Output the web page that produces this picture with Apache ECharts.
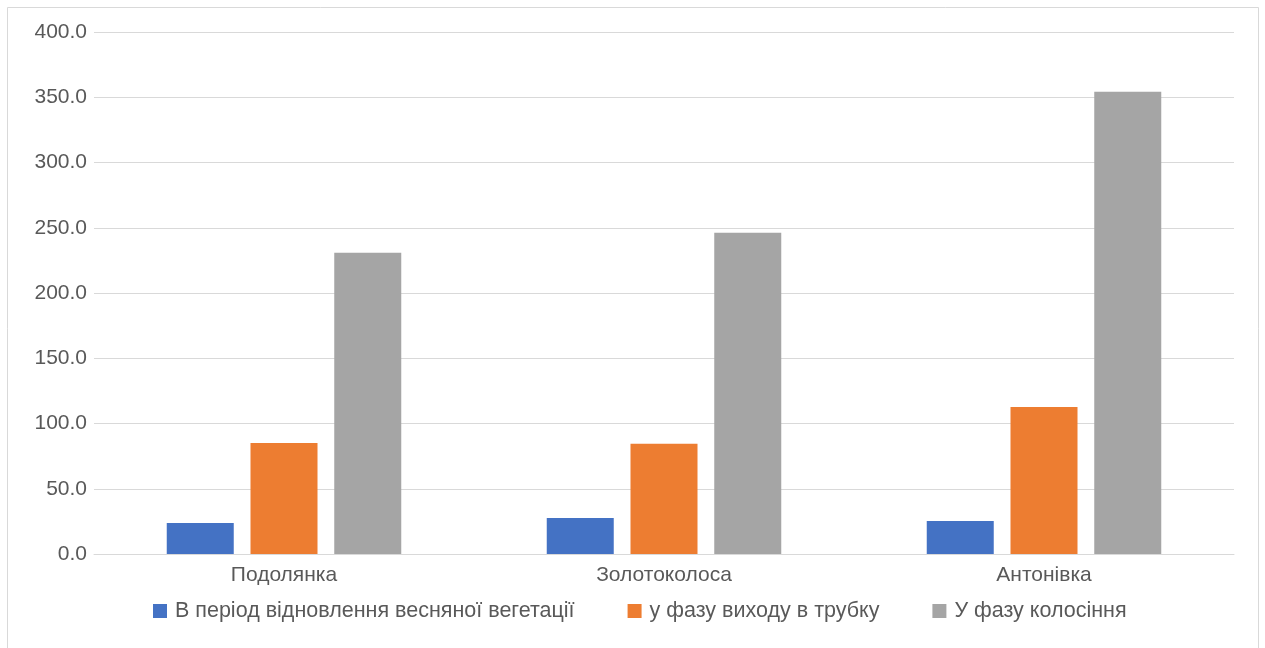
<!DOCTYPE html>
<html>
<head>
<meta charset="utf-8">
<title>Висота рослин</title>
<script src="https://cdn.jsdelivr.net/npm/echarts@6/dist/echarts.min.js"></script>
<style>
  html, body { margin: 0; padding: 0; background: #ffffff; }
  #chart { width: 1265px; height: 648px; }
</style>
</head>
<body>
<div id="chart"></div>
<script>
// Varieties on the category axis
const categories = ['Подолянка', 'Золотоколоса', 'Антонівка'];

// Series names (growth phases)
const seriesNames = [
  'В період відновлення весняної вегетації',
  'у фазу виходу в трубку',
  'У фазу колосіння'
];

// Values per phase, one per variety
const springRenewal = [23.8, 27.6, 25.3];
const tubeStage = [85.1, 84.4, 112.7];
const headingStage = [230.8, 246.2, 354.3];

// Value axis ticks
const yMin = 0;
const yMax = 400;
const yStep = 50;

const colors = ['#4472C4', '#ED7D31', '#A5A5A5'];
const textColor = '#595959';
const fontFamily = '"Liberation Sans", Arial, sans-serif';

const seriesData = [springRenewal, tubeStage, headingStage];

const chart = echarts.init(document.getElementById('chart'), null, { renderer: 'canvas' });

chart.setOption({
  backgroundColor: '#ffffff',
  animation: false,
  color: colors,
  textStyle: { fontFamily: fontFamily },
  graphic: [{
    type: 'rect',
    silent: true,
    shape: { x: 7.5, y: 7.5, width: 1251, height: 700 },
    style: { fill: 'none', stroke: '#d9d9d9', lineWidth: 1 }
  }],
  grid: { left: 94, right: 31, top: 32, bottom: 94, containLabel: false },
  legend: {
    data: seriesNames,
    left: 148,
    top: 595,
    itemWidth: 14,
    itemHeight: 14,
    itemGap: 53,
    icon: 'rect',
    textStyle: { color: textColor, fontSize: 21.5, fontFamily: fontFamily, padding: [0, 0, 0, 3] }
  },
  xAxis: {
    type: 'category',
    data: categories,
    axisLine: { show: true, lineStyle: { color: '#d9d9d9', width: 1 } },
    axisTick: { show: false },
    axisLabel: { color: textColor, fontSize: 21, margin: 11, fontFamily: fontFamily }
  },
  yAxis: {
    type: 'value',
    min: yMin,
    max: yMax,
    interval: yStep,
    axisLine: { show: false },
    axisTick: { show: false },
    splitLine: { lineStyle: { color: '#d9d9d9', width: 1 } },
    axisLabel: {
      color: textColor,
      fontSize: 21,
      margin: 7,
      fontFamily: fontFamily,
      formatter: v => v.toFixed(1)
    }
  },
  series: seriesNames.map((name, i) => ({
    name: name,
    type: 'bar',
    data: seriesData[i],
    barWidth: 67,
    barGap: '25%',
    itemStyle: { color: colors[i] }
  }))
});
</script>
</body>
</html>
